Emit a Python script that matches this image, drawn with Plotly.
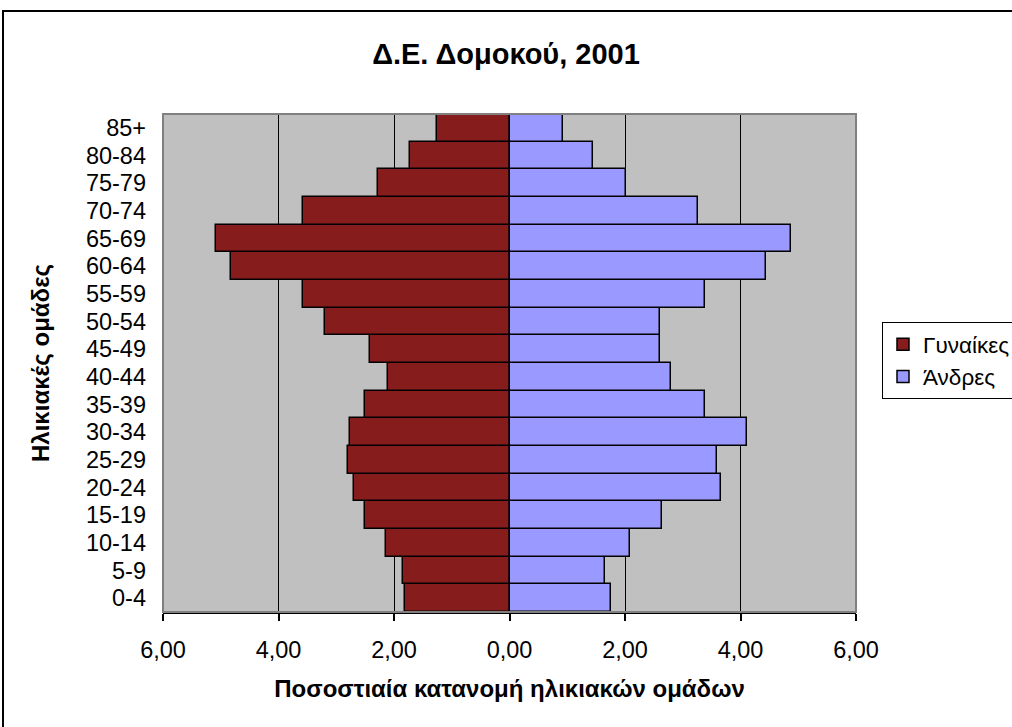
import plotly.graph_objects as go

age_groups = ["0-4", "5-9", "10-14", "15-19", "20-24", "25-29", "30-34", "35-39", "40-44",
              "45-49", "50-54", "55-59", "60-64", "65-69", "70-74", "75-79", "80-84", "85+"]
women = [1.81, 1.85, 2.14, 2.50, 2.70, 2.80, 2.77, 2.50, 2.11,
         2.41, 3.20, 3.57, 4.82, 5.08, 3.57, 2.28, 1.72, 1.25]
men = [1.75, 1.65, 2.08, 2.64, 3.66, 3.59, 4.12, 3.39, 2.80,
       2.60, 2.60, 3.39, 4.44, 4.88, 3.26, 2.01, 1.45, 0.92]
tick_values = [-6, -4, -2, 0, 2, 4, 6]
tick_text = ["6,00", "4,00", "2,00", "0,00", "2,00", "4,00", "6,00"]

FONT = "Liberation Sans, Arial, sans-serif"
W, H = 1012, 727

fig = go.Figure()
fig.add_trace(go.Bar(
    y=age_groups, x=[-v for v in women], orientation="h", name="Γυναίκες",
    marker=dict(color="#861C1C", line=dict(color="black", width=1.5)),
))
fig.add_trace(go.Bar(
    y=age_groups, x=men, orientation="h", name="Άνδρες",
    marker=dict(color="#9999FF", line=dict(color="black", width=1.5)),
))

fig.update_layout(
    width=W, height=H,
    margin=dict(l=163, r=156, t=114, b=115, autoexpand=False),
    paper_bgcolor="white", plot_bgcolor="#C0C0C0",
    barmode="overlay", bargap=0,
    font=dict(family=FONT, size=23.5, color="black"),
    title=dict(text="<b>Δ.Ε. Δομοκού, 2001</b>", x=0.5, xanchor="center",
               y=1 - 54 / H, yanchor="middle", font=dict(size=29)),
    legend=dict(xref="container", x=882 / W, xanchor="left",
                yref="container", y=(H - 322) / H, yanchor="top",
                bordercolor="black", borderwidth=1, bgcolor="white",
                font=dict(size=22.5), tracegroupgap=0, itemwidth=30),
    showlegend=True,
)
fig.update_xaxes(
    range=[-6, 6], tickvals=tick_values, ticktext=tick_text,
    showgrid=True, gridcolor="black", gridwidth=1,
    zeroline=True, zerolinecolor="black", zerolinewidth=2,
    showline=True, linecolor="black", linewidth=2,
    ticks="outside", ticklen=7, tickcolor="black", tickwidth=1.5,
    ticklabelstandoff=9,
    title=dict(text="<b>Ποσοστιαία κατανομή ηλικιακών ομάδων</b>", font=dict(size=24), standoff=18),
)
fig.update_yaxes(
    range=[-0.5, 17.5], tickmode="array", tickvals=age_groups, ticktext=age_groups,
    showgrid=False, zeroline=False, showline=False,
    ticks="", ticklabelstandoff=16,
)
fig.add_annotation(text="<b>Ηλικιακές ομάδες</b>", textangle=-90,
                   xref="paper", yref="paper", x=(40 - 163) / 693, y=0.5,
                   xanchor="center", yanchor="middle", showarrow=False,
                   font=dict(size=24))
fig.add_shape(type="rect", xref="paper", yref="paper", x0=0, x1=1, y0=0, y1=1,
              line=dict(color="#808080", width=2), layer="above")
fig.add_shape(type="rect", xref="paper", yref="paper",
              x0=(3 - 163) / 693, x1=1.26, y0=-0.25, y1=(612 - 11) / 498,
              line=dict(color="black", width=2), layer="above")

fig.write_html("out.html", config={"displayModeBar": False},
               post_script="document.body.style.margin='0';")
